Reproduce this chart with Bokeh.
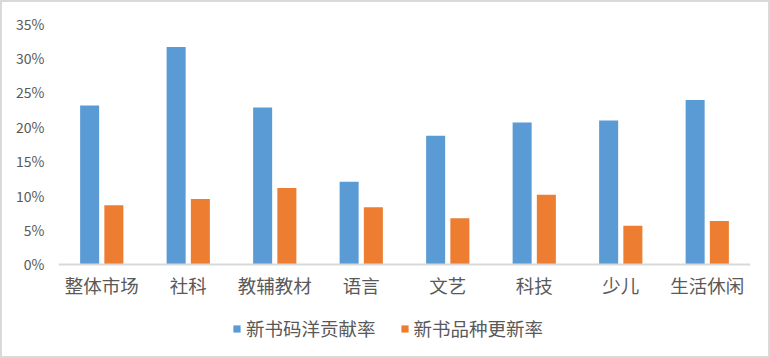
from bokeh.plotting import figure
from bokeh.models import (FactorRange, Range1d, FixedTicker, NumeralTickFormatter,
                          Legend, LegendItem, ColumnDataSource)
from bokeh.transform import dodge
from bokeh.embed import file_html
from bokeh.resources import INLINE

categories = ["整体市场", "社科", "教辅教材", "语言", "文艺", "科技", "少儿", "生活休闲"]
series_names = ["新书码洋贡献率", "新书品种更新率"]
contribution = [0.231, 0.316, 0.228, 0.120, 0.187, 0.206, 0.209, 0.239]
renewal = [0.086, 0.095, 0.111, 0.083, 0.067, 0.101, 0.056, 0.063]
y_ticks = [0, 0.05, 0.10, 0.15, 0.20, 0.25, 0.30, 0.35]

FONT = "Noto Sans CJK SC"
TXT = "#595959"

# frame extends below zero so the legend can sit inside it
ymin = -0.35 * 95 / 238

src = ColumnDataSource(dict(cat=categories, a=contribution, b=renewal))

p = figure(width=770, height=358, x_range=FactorRange(*categories),
           y_range=Range1d(ymin, 0.35), output_backend="svg", toolbar_location=None,
           min_border_left=56, min_border_right=22, min_border_top=21,
           min_border_bottom=0)
p.styles = {"border": "2px solid #d9d9d9"}
p.outline_line_color = None
p.xgrid.visible = False
p.ygrid.visible = False

r1 = p.vbar(x=dodge("cat", -0.14, range=p.x_range), top="a", width=0.22,
            source=src, color="#5b9bd5", line_color=None)
r2 = p.vbar(x=dodge("cat", 0.14, range=p.x_range), top="b", width=0.22,
            source=src, color="#ed7d31", line_color=None)

p.yaxis.ticker = FixedTicker(ticks=y_ticks)
p.yaxis.formatter = NumeralTickFormatter(format="0%")
p.yaxis.axis_line_color = None
p.yaxis.major_tick_line_color = None
p.yaxis.minor_tick_line_color = None
p.yaxis.major_label_text_font = FONT
p.yaxis.major_label_text_font_size = "14px"
p.yaxis.major_label_text_color = TXT
p.yaxis.major_label_standoff = 8

p.xaxis.fixed_location = 0
p.xaxis.axis_line_color = "#d9d9d9"
p.xaxis.axis_line_width = 2
p.xaxis.major_tick_line_color = None
p.xaxis.minor_tick_line_color = None
p.xaxis.major_label_text_font = FONT
p.xaxis.major_label_text_font_size = "18.5px"
p.xaxis.major_label_text_color = TXT
p.xaxis.major_label_standoff = 2

legend = Legend(items=[LegendItem(label=series_names[0], renderers=[r1]),
                       LegendItem(label=series_names[1], renderers=[r2])],
                orientation="horizontal", location=(174, 19),
                label_text_font=FONT, label_text_font_size="18.5px",
                label_text_color=TXT, glyph_width=9, glyph_height=9,
                spacing=24, label_standoff=5, border_line_color=None,
                background_fill_alpha=0, margin=0, padding=0)
p.add_layout(legend, "center")

open("out.html", "w").write(file_html(p, INLINE))
